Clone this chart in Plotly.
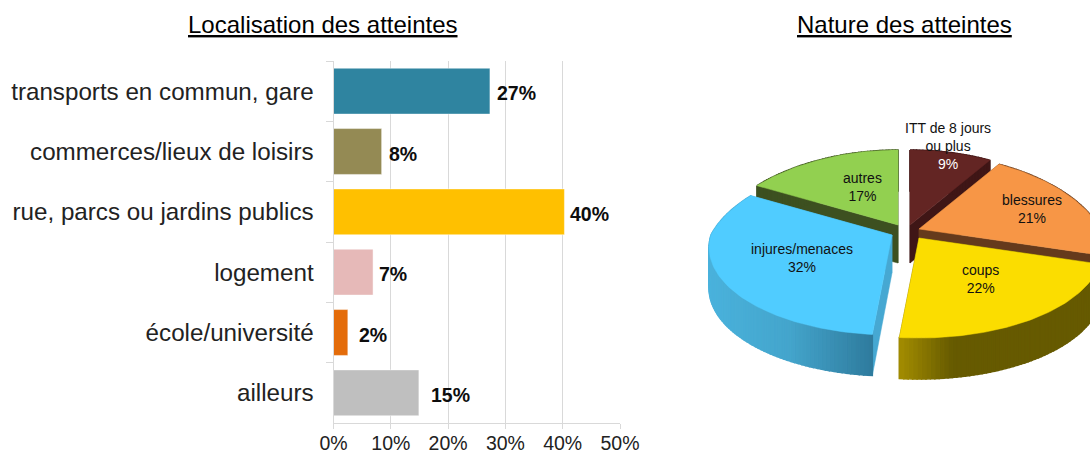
import math
import plotly.graph_objects as go

W, H = 1090, 454
FONT = "Liberation Sans"

# ---- data ----
bar_categories = ["transports en commun, gare", "commerces/lieux de loisirs",
                  "rue, parcs ou jardins publics", "logement", "école/université", "ailleurs"]
bar_values = [27.3, 8.4, 40.3, 6.9, 2.5, 14.9]
bar_labels = ["27%", "8%", "40%", "7%", "2%", "15%"]
x_ticks = [0, 10, 20, 30, 40, 50]
x_tick_labels = ["0%", "10%", "20%", "30%", "40%", "50%"]

pie_names = ["ITT de 8 jours<br>ou plus", "blessures", "coups", "injures/menaces", "autres"]
pie_values = [9, 21, 22, 32, 17]

# ---- styles ----
bar_colors = ["#2f84a0", "#948a54", "#ffc000", "#e6b9b8", "#e46c0a", "#bfbfbf"]
label_shift = [7, 7, 6, 6, 11, 12]
top_colors = ["#632523", "#f79646", "#fbdd00", "#50ccff", "#92d050"]
wall_colors = ["#3f1616", "#653a1c", "#665a00", "#46a8d2", "#3d5020"]
apex = [(910, 225), (919, 229), (919, 238), (892, 235), (898, 225)]
text_pos = [(948, 146), (1032, 209), (980, 279), (802, 258), (862, 187)]
draw_order = [0, 4, 1, 2, 3]
RX, RY, PERSP, PERSP_X_FAR = 181, 85.7, 0.143, 0.24
DEPTH_OUT, DEPTH_IN = 41, 38


def rim(th):
    c = math.cos(th)
    s = 1 / (1 + PERSP * c)
    sx = 1 / (1 + PERSP_X_FAR * c) if c > 0 else s
    return RX * math.sin(th) * sx, -RY * c * s


def mix(a, b, t):
    t = max(0, min(1, t))
    ca = [int(a[i:i + 2], 16) for i in (1, 3, 5)]
    cb = [int(b[i:i + 2], 16) for i in (1, 3, 5)]
    return "#%02x%02x%02x" % tuple(round(p + (q - p) * t) for p, q in zip(ca, cb))


fig = go.Figure()

fig.add_trace(go.Bar(y=bar_categories, x=bar_values, orientation="h",
                     marker=dict(color=bar_colors, line=dict(color="rgba(255,255,255,0.45)", width=1)),
                     width=0.76, xaxis="x", yaxis="y", hoverinfo="skip"))


def poly(xs, ys, color, lw=0.5):
    fig.add_trace(go.Scatter(x=xs, y=ys, mode="lines", fill="toself", fillcolor=color,
                             line=dict(color=color, width=lw),
                             xaxis="x2", yaxis="y2", hoverinfo="skip"))


total = sum(pie_values)
bounds = [0]
for v in pie_values:
    bounds.append(bounds[-1] + v / total * 2 * math.pi)

for i in draw_order:
    ax, ay = apex[i]
    a0, a1 = bounds[i], bounds[i + 1]
    n = max(8, int((a1 - a0) / math.radians(1.2)))
    ths = [a0 + (a1 - a0) * k / n for k in range(n + 1)]
    pts = [(ax + rim(t)[0], ay + rim(t)[1]) for t in ths]
    for p in (pts[0], pts[-1]):
        poly([ax, p[0], p[0], ax, ax], [ay, p[1], p[1] + DEPTH_OUT, ay + DEPTH_IN, ay], wall_colors[i])
    for k in range(n):
        p, q = pts[k], pts[k + 1]
        mid = (p[0] + q[0]) / 2
        c = wall_colors[i]
        if i == 2:
            c = mix("#a08a00", "#665a00", (mid - 902) / 50)
        elif i == 3:
            c = mix("#4ab2dc", "#44a5cc", (mid - 708) / 80) if mid < 788 else mix("#44a5cc", "#2e7a9c", (mid - 788) / 86)
        poly([p[0], q[0], q[0], p[0], p[0]],
             [p[1], q[1], q[1] + DEPTH_OUT, p[1] + DEPTH_OUT, p[1]], c, lw=1.5)
    poly([ax] + [p[0] for p in pts] + [ax], [ay] + [p[1] for p in pts] + [ay], top_colors[i])

annotations = []
for txt, cx in (("Localisation des atteintes", 323), ("Nature des atteintes", 904)):
    annotations.append(dict(text=f"<u>{txt}</u>", xref="x2", yref="y2", x=cx, y=24, showarrow=False,
                            font=dict(family=FONT, size=24, color="#000000")))
for cat, v, lab, sh in zip(bar_categories, bar_values, bar_labels, label_shift):
    annotations.append(dict(text=f"<b>{lab}</b>", xref="x", yref="y", x=v, y=cat, xanchor="left", xshift=sh - 2,
                            yshift=-2, showarrow=False, font=dict(family=FONT, size=19.5, color="#0d0d0d")))
for i, (name, v) in enumerate(zip(pie_names, pie_values)):
    pct = f"{v}%"
    if i == 0:
        pct = f"<span style='color:#ffffff'>{pct}</span>"
    annotations.append(dict(text=f"{name}<br>{pct}", xref="x2", yref="y2", x=text_pos[i][0], y=text_pos[i][1],
                            showarrow=False, font=dict(family=FONT, size=14, color="#111111")))

fig.update_layout(
    template="none",
    width=W, height=H, margin=dict(l=0, r=0, t=0, b=0, pad=0), autosize=False,
    paper_bgcolor="#ffffff", plot_bgcolor="rgba(0,0,0,0)", showlegend=False,
    xaxis=dict(domain=[333.5 / W, 620 / W], range=[0, 50], tickvals=x_ticks, ticktext=x_tick_labels,
               showgrid=True, gridcolor="#d9d9d9", gridwidth=1, zeroline=False, showline=True,
               linecolor="#d9d9d9", ticks="outside", ticklen=5, tickcolor="#d9d9d9", automargin=False,
               ticklabelstandoff=-2,
               tickfont=dict(family=FONT, size=19.5, color="#222222"), anchor="y"),
    yaxis=dict(domain=[(H - 423) / H, (H - 61) / H], autorange="reversed", type="category",
               tickson="boundaries", ticks="outside", ticklen=7, tickcolor="#d9d9d9", showline=True,
               linecolor="#d9d9d9", showgrid=False, zeroline=False, ticklabelstandoff=14, automargin=False,
               tickfont=dict(family=FONT, size=24.2, color="#222222"), anchor="x"),
    xaxis2=dict(domain=[0, 1], range=[0, W], visible=False, anchor="y2", fixedrange=True, automargin=False),
    yaxis2=dict(domain=[0, 1], range=[H, 0], visible=False, anchor="x2", fixedrange=True, automargin=False),
    annotations=annotations,
)
fig.write_html("out.html", config=dict(displayModeBar=False),
               post_script="document.body.style.margin='0';document.documentElement.style.overflow='hidden';")
